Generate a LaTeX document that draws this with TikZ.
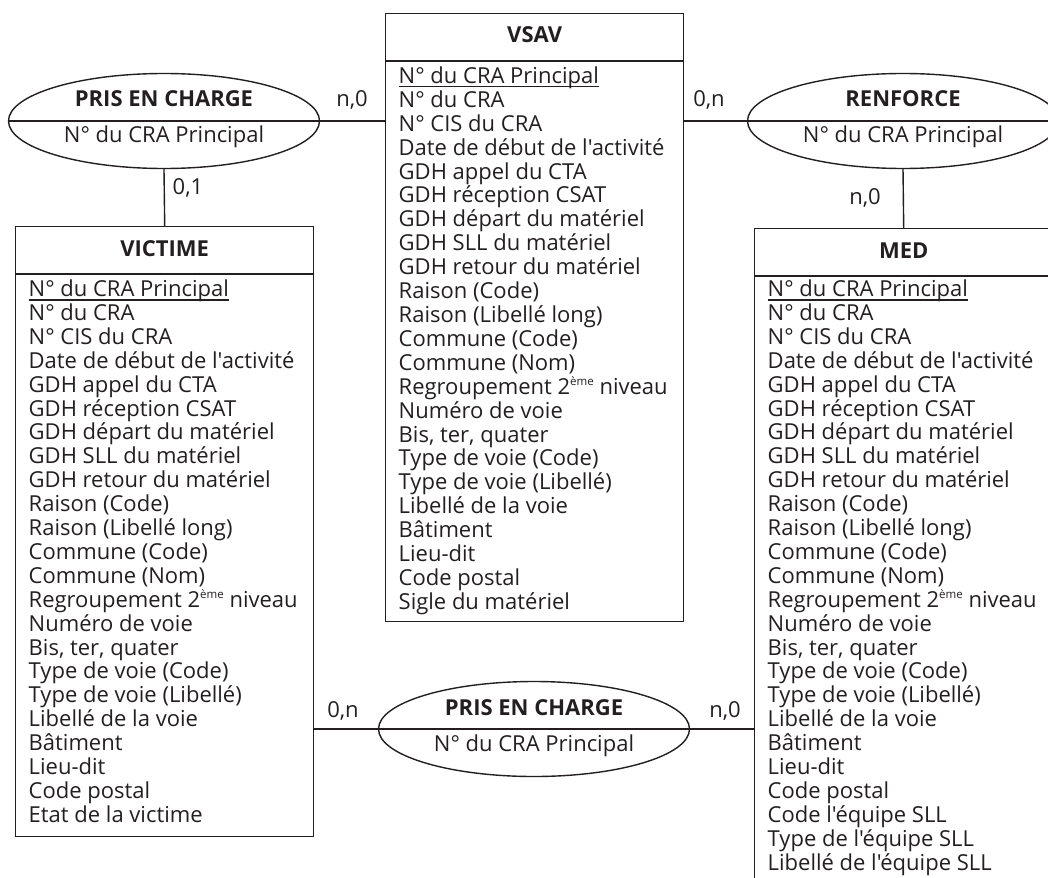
\documentclass[tikz,border=0pt]{standalone}
\usepackage{fontspec}
\setmainfont{Open Sans}[Ligatures=TeXOff]
\usetikzlibrary{shapes.geometric}
\definecolor{ink}{RGB}{35,31,32}
\newcommand\keyattr[1]{{\setbox0\hbox{#1}\rlap{\rule[-4pt]{\wd0}{1.1pt}}\box0}}
\newcommand\eme{\raisebox{0.75ex}{\fontsize{11.5}{11.5}\selectfont ème}}
\begin{document}
\begin{tikzpicture}[x=1pt,y=-1pt,
  line width=1.4pt, draw=ink, text=ink,
  entity/.style={draw=ink, rectangle, inner sep=0pt, minimum width=298pt, anchor=north west},
  assoc/.style={draw=ink, ellipse, inner sep=0pt, minimum width=311pt, minimum height=95pt},
  ttl/.style={font=\fontsize{22}{24}\selectfont\bfseries, inner sep=0pt, anchor=base},
  attr/.style={font=\fontsize{22}{24}\selectfont, inner sep=0pt, anchor=base west},
  card/.style={font=\fontsize{22}{24}\selectfont, inner sep=0pt, anchor=base}]
\useasboundingbox (0,0) rectangle (1048,877);
\clip (0,0) rectangle (1048,877);

% entities
\node[entity, minimum height=608pt] (vsav) at (385,13) {};
\node[entity, minimum height=610pt] (victime) at (15,226) {};
\node[entity, minimum height=680pt] (med) at (754,228) {};

\foreach \e in {vsav,victime,med}
  \draw ([yshift=-48pt]\e.north west) -- ([yshift=-48pt]\e.north east);

\node[ttl] (vsav-t) at ([yshift=-30pt]vsav.north) {VSAV};
\node[ttl] (victime-t) at ([yshift=-30pt]victime.north) {VICTIME};
\node[ttl] (med-t) at ([yshift=-30pt]med.north) {MED};

% attributes
\foreach \t [count=\i from 0] in {
  \keyattr{N° du CRA Principal}, N° du CRA, N° CIS du CRA,
  Date de début de l'activité, GDH appel du CTA, GDH réception CSAT,
  GDH départ du matériel, GDH SLL du matériel, GDH retour du matériel,
  Raison (Code), Raison (Libellé long), Commune (Code), Commune (Nom),
  Regroupement 2\eme\ niveau, Numéro de voie, {Bis, ter, quater},
  Type de voie (Code), Type de voie (Libellé), Libellé de la voie,
  Bâtiment, Lieu-dit, Code postal, Sigle du matériel}
  \node[attr] (vsav-\i) at (398,{83.5+23.9*\i}) {\t};

\foreach \t [count=\i from 0] in {
  \keyattr{N° du CRA Principal}, N° du CRA, N° CIS du CRA,
  Date de début de l'activité, GDH appel du CTA, GDH réception CSAT,
  GDH départ du matériel, GDH SLL du matériel, GDH retour du matériel,
  Raison (Code), Raison (Libellé long), Commune (Code), Commune (Nom),
  Regroupement 2\eme\ niveau, Numéro de voie, {Bis, ter, quater},
  Type de voie (Code), Type de voie (Libellé), Libellé de la voie,
  Bâtiment, Lieu-dit, Code postal, Etat de la victime}
  \node[attr] (victime-\i) at (28,{296.5+23.9*\i}) {\t};

\foreach \t [count=\i from 0] in {
  \keyattr{N° du CRA Principal}, N° du CRA, N° CIS du CRA,
  Date de début de l'activité, GDH appel du CTA, GDH réception CSAT,
  GDH départ du matériel, GDH SLL du matériel, GDH retour du matériel,
  Raison (Code), Raison (Libellé long), Commune (Code), Commune (Nom),
  Regroupement 2\eme\ niveau, Numéro de voie, {Bis, ter, quater},
  Type de voie (Code), Type de voie (Libellé), Libellé de la voie,
  Bâtiment, Lieu-dit, Code postal, Code l'équipe SLL,
  Type de l'équipe SLL, Libellé de l'équipe SLL}
  \node[attr] (med-\i) at (767,{296.5+23.9*\i}) {\t};

% associations
\node[assoc] (pc1) at (164,121) {};
\node[assoc] (ren) at (903,121) {};
\node[assoc] (pc2) at (534,729) {};
\foreach \a in {pc1,ren,pc2}
  \draw (\a.west) -- (\a.east);

\node[ttl] (pc1-t) at ([yshift=14pt]pc1.center) {PRIS EN CHARGE};
\node[ttl] (pc1-a) at ([yshift=-22pt]pc1.center) {\mdseries N° du CRA Principal};
\node[ttl] (ren-t) at ([yshift=14pt]ren.center) {RENFORCE};
\node[ttl] (ren-a) at ([yshift=-22pt]ren.center) {\mdseries N° du CRA Principal};
\node[ttl] (pc2-t) at ([yshift=14pt]pc2.center) {PRIS EN CHARGE};
\node[ttl] (pc2-a) at ([yshift=-22pt]pc2.center) {\mdseries N° du CRA Principal};

% connectors
\draw (pc1.east) -- (pc1.east -| vsav.west);
\draw (vsav.east |- ren.west) -- (ren.west);
\draw (pc1.south) -- (victime.north);
\draw (ren.south) -- (med.north);
\draw (victime.east |- pc2.west) -- (pc2.west);
\draw (pc2.east) -- (pc2.east -| med.west);

% cardinalities
\node[card] (c1) at (352,107) {n,0};
\node[card] (c2) at (188,195) {0,1};
\node[card] (c3) at (709,107) {0,n};
\node[card] (c4) at (865,205) {n,0};
\node[card] (c5) at (343,717) {0,n};
\node[card] (c6) at (725,717) {n,0};
\end{tikzpicture}
\end{document}
